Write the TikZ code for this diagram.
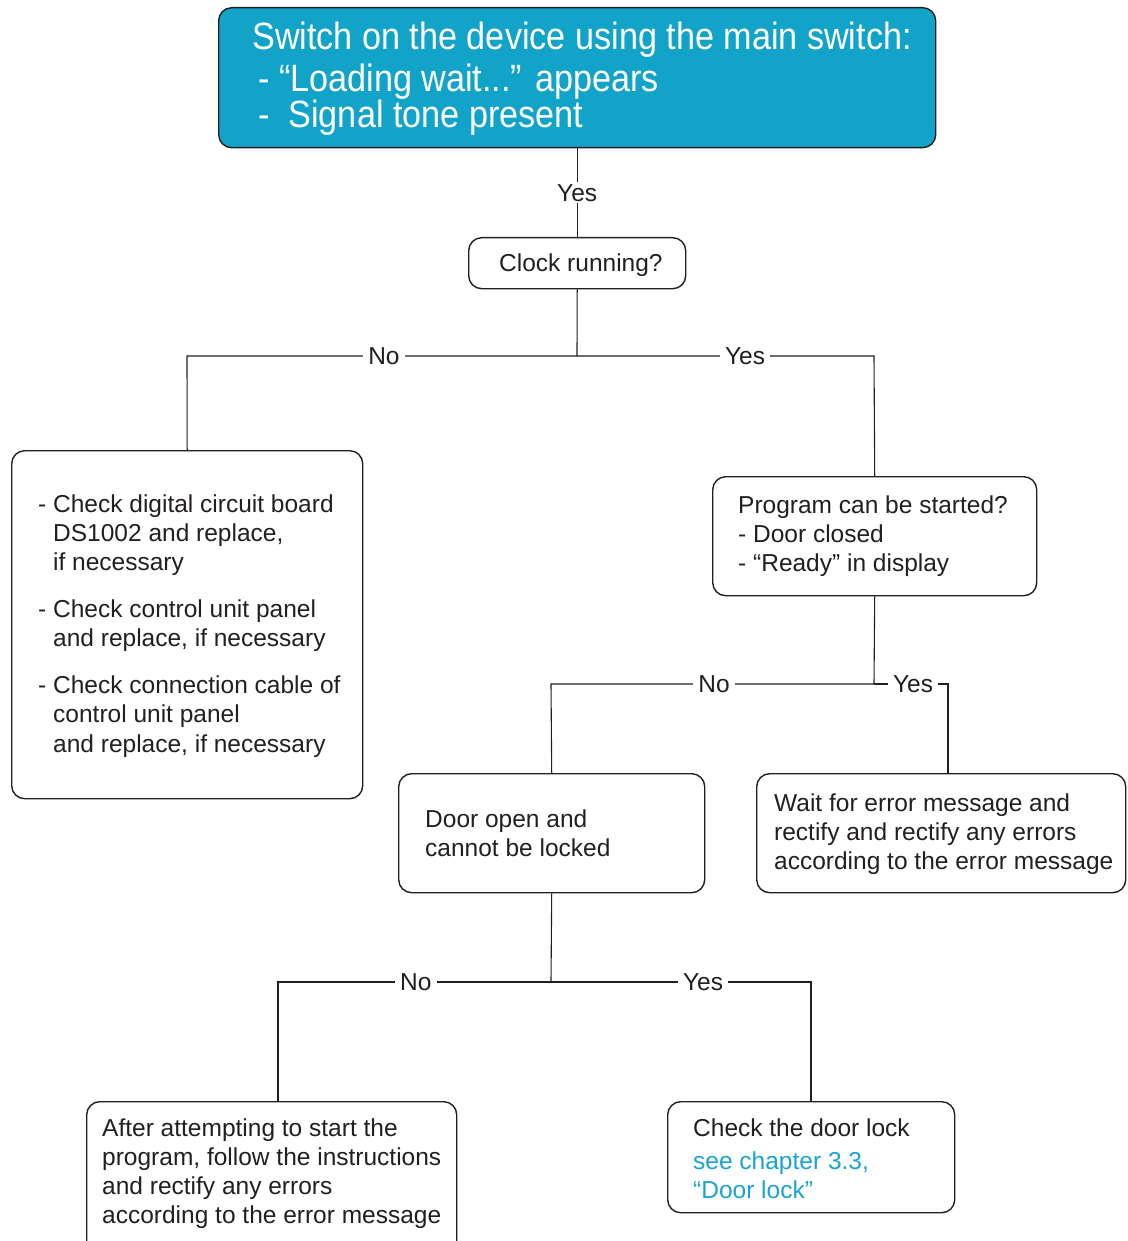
\documentclass[tikz,border=0pt]{standalone}
\usepackage{fontspec}
\setmainfont{Liberation Sans}
\newfontfamily\fcnarrow[FakeStretch=0.9]{Liberation Sans}
\definecolor{topblue}{RGB}{18,163,201}
\definecolor{ink}{RGB}{35,31,32}
\definecolor{linkblue}{RGB}{27,163,207}
\newcommand\fcbody{\fontsize{24.5}{29.3}\selectfont}
\newcommand\fctop{\fcnarrow\fontsize{38}{44}\selectfont}
\newcommand\ind{\hspace*{15pt}}
\begin{document}
\begin{tikzpicture}[x=1pt,y=-1pt,
  box/.style={draw=ink, line width=1.4pt, rounded corners=13pt, anchor=north west, inner sep=0pt},
  conn/.style={draw=ink, line width=1.1pt},
  lbl/.style={fill=white, inner xsep=5pt, inner ysep=2pt, text=ink, font=\fcbody},
  txt/.style={anchor=base west, inner sep=0pt, text=ink, font=\fcbody},
  toptxt/.style={anchor=base west, inner sep=0pt, text=white, font=\fctop}]
\useasboundingbox (0,0) rectangle (1127,1241);

% boxes
\node[box, fill=topblue, minimum width=717pt, minimum height=140pt] (top) at (218,7) {};
\node[box, minimum width=217pt, minimum height=51pt] (clock) at (468,237) {};
\node[box, minimum width=351pt, minimum height=348pt] (left) at (11,450) {};
\node[box, minimum width=324pt, minimum height=119pt] (prog) at (712,476) {};
\node[box, minimum width=306pt, minimum height=119pt] (door) at (398,773) {};
\node[box, minimum width=369pt, minimum height=119pt] (wait) at (756,773) {};
\node[box, minimum width=370pt, minimum height=170pt] (after) at (86,1101) {};
\node[box, minimum width=287pt, minimum height=111pt] (check) at (667,1101) {};

% junctions
\coordinate (j1) at (577,356);
\coordinate (c1L) at (187,356);
\coordinate (c1R) at (874,356);
\coordinate (j2) at (874,684);
\coordinate (c2L) at (551,684);
\coordinate (c2R) at (948,684);
\coordinate (j3) at (551,982);
\coordinate (c3L) at (278,982);
\coordinate (c3R) at (811,982);

% connectors
\draw[conn] (top.south) -- node[lbl]{Yes} (clock.north);
\draw[conn] (clock.south) -- (j1);
\draw[conn] (j1) -- node[lbl,pos=0.495]{No} (c1L) -- (left.north);
\draw[conn] (j1) -- node[lbl,pos=0.566]{Yes} (c1R) -- (prog.north);
\draw[conn] (prog.south) -- (j2);
\draw[conn] (j2) -- node[lbl,pos=0.495]{No} (c2L) -- (door.north);
\draw[conn] (j2) -- node[lbl,pos=0.527]{Yes} (c2R) -- (c2R |- wait.north);
\draw[conn] (door.south) -- (j3);
\draw[conn] (j3) -- node[lbl,pos=0.495]{No} (c3L) -- (c3L |- after.north);
\draw[conn] (j3) -- node[lbl,pos=0.585]{Yes} (c3R) -- (c3R |- check.north);

% texts
\node[toptxt] (t1) at (252,50) {Switch on the device using the main switch:};
\node[toptxt] (t2) at (258,92) {- “Loading wait...” appears};
\node[toptxt] (t3) at (258,128) {-\hspace{19pt}Signal tone present};

\node[txt] (clockT) at (499,271) {Clock running?};

\node[txt] (leftT) at (38,512) {\vtop{%
  \hbox{- Check digital circuit board}
  \hbox{\ind DS1002 and replace,}
  \hbox{\ind if necessary}
  \vskip 17.5pt
  \hbox{- Check control unit panel}
  \hbox{\ind and replace, if necessary}
  \vskip 17.5pt
  \hbox{- Check connection cable of}
  \hbox{\ind control unit panel}
  \hbox{\ind and replace, if necessary}}};

\node[txt] (progT) at (738,513) {\vtop{%
  \hbox{Program can be started?}
  \hbox{- Door closed}
  \hbox{- “Ready” in display}}};

\node[txt] (doorT) at (425,827) {\vtop{%
  \hbox{Door open and}
  \hbox{cannot be locked}}};

\node[txt] (waitT) at (774,811) {\vtop{%
  \hbox{Wait for error message and}
  \hbox{rectify and rectify any errors}
  \hbox{according to the error message}}};

\node[txt] (afterT) at (102,1136) {\vtop{%
  \hbox{After attempting to start the}
  \hbox{program, follow the instructions}
  \hbox{and rectify any errors}
  \hbox{according to the error message}}};

\node[txt] (checkT) at (693,1136) {Check the door lock};
\node[txt, text=linkblue] (checkL) at (693,1169) {\vtop{%
  \hbox{see chapter 3.3,}
  \hbox{“Door lock”}}};
\end{tikzpicture}
\end{document}
